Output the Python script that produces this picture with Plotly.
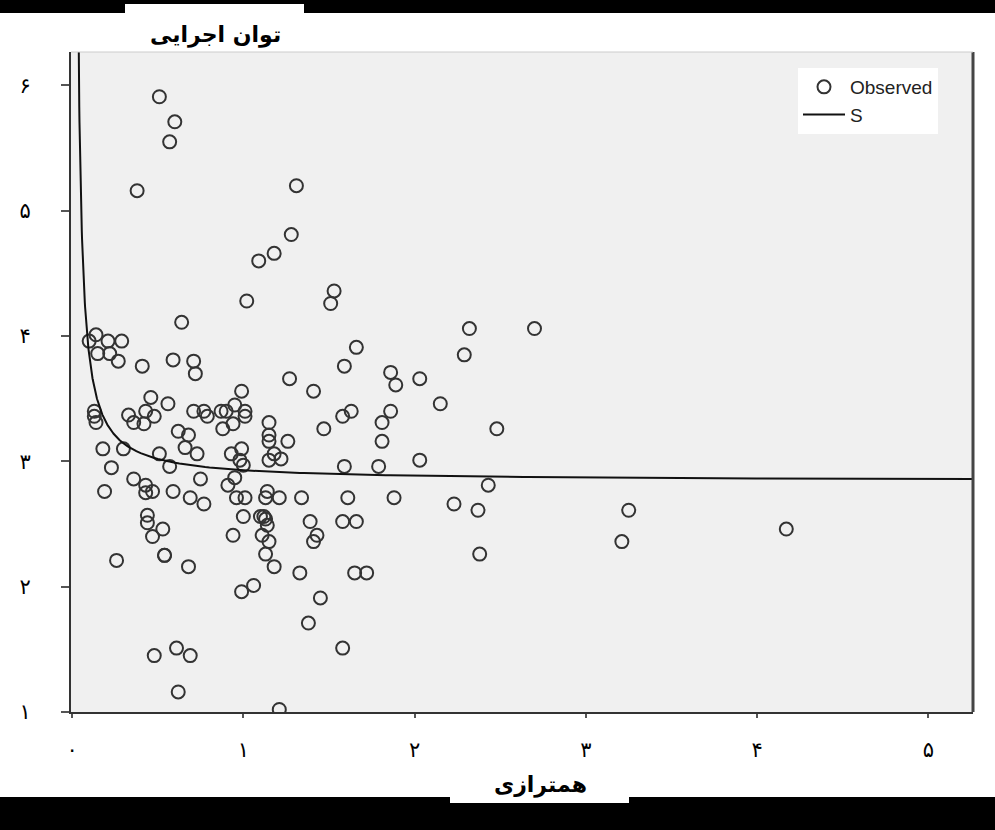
import numpy as np
import plotly.graph_objects as go

# ---- data ----
alignment = [0.51, 0.60, 0.57, 0.38, 1.31, 1.28, 1.18, 1.09, 1.02, 1.53, 1.51, 0.64,
             0.14, 0.10, 0.21, 0.29, 0.15, 0.22, 0.27, 0.41, 0.59, 0.71, 0.72, 0.99,
             0.46, 0.56, 0.13, 0.13, 0.14, 0.33, 0.36, 0.43, 0.48, 0.42, 0.71, 0.77,
             0.79, 0.87, 0.90, 0.95, 1.01, 1.01, 0.94, 0.88, 0.62, 0.68, 0.18, 0.30,
             0.51, 0.66, 0.73, 0.57, 0.23, 0.99, 0.93, 0.98, 1.00, 0.75, 0.95, 0.91,
             0.36, 0.43, 0.43, 0.47, 0.19, 0.59, 0.69, 0.77, 0.96, 1.01, 1.00, 0.44,
             0.44, 0.53, 0.47, 0.94, 0.54, 0.54, 0.26, 0.68, 0.99, 1.06, 0.48, 0.61,
             0.69, 0.62, 1.66, 1.59, 1.27, 1.41, 1.86, 1.89, 2.03, 2.15, 2.29, 1.15,
             1.15, 1.15, 1.26, 1.47, 1.63, 1.58, 1.86, 1.81, 1.81, 2.03, 1.18, 1.15,
             1.22, 1.59, 1.79, 1.14, 1.13, 1.21, 1.34, 1.61, 1.88, 2.23, 1.10, 1.12,
             1.13, 1.39, 1.58, 1.66, 1.14, 1.11, 1.15, 1.13, 1.18, 1.43, 1.41, 1.33,
             1.65, 1.72, 1.45, 1.38, 1.58, 1.21, 2.32, 2.70, 2.48, 2.43, 2.37, 2.38,
             3.21, 3.25, 4.17]
performance = [5.91, 5.71, 5.55, 5.16, 5.20, 4.81, 4.66, 4.60, 4.28, 4.36, 4.26, 4.11,
               4.01, 3.96, 3.96, 3.96, 3.86, 3.86, 3.80, 3.76, 3.81, 3.80, 3.70, 3.56,
               3.51, 3.46, 3.40, 3.36, 3.31, 3.37, 3.31, 3.40, 3.36, 3.30, 3.40, 3.40,
               3.36, 3.40, 3.40, 3.45, 3.40, 3.36, 3.30, 3.26, 3.24, 3.21, 3.10, 3.10,
               3.06, 3.11, 3.06, 2.96, 2.95, 3.10, 3.06, 3.01, 2.97, 2.86, 2.87, 2.81,
               2.86, 2.81, 2.75, 2.76, 2.76, 2.76, 2.71, 2.66, 2.71, 2.71, 2.56, 2.57,
               2.51, 2.46, 2.40, 2.41, 2.25, 2.25, 2.21, 2.16, 1.96, 2.01, 1.45, 1.51,
               1.45, 1.16, 3.91, 3.76, 3.66, 3.56, 3.71, 3.61, 3.66, 3.46, 3.85, 3.31,
               3.21, 3.16, 3.16, 3.26, 3.40, 3.36, 3.40, 3.31, 3.16, 3.01, 3.06, 3.01,
               3.02, 2.96, 2.96, 2.76, 2.71, 2.71, 2.71, 2.71, 2.71, 2.66, 2.56, 2.56,
               2.54, 2.52, 2.52, 2.52, 2.49, 2.41, 2.36, 2.26, 2.16, 2.41, 2.36, 2.11,
               2.11, 2.11, 1.91, 1.71, 1.51, 1.02, 4.06, 4.06, 3.26, 2.81, 2.61, 2.26,
               2.36, 2.61, 2.46]

x_ticks = [0, 1, 2, 3, 4, 5]
x_tick_labels = ["۰", "۱", "۲", "۳", "۴", "۵"]
y_ticks = [1, 2, 3, 4, 5, 6]
y_tick_labels = ["۱", "۲", "۳", "۴", "۵", "۶"]

x_title = "همترازی"
y_title = "توان اجرایی"

# ---- S model fit: ln(y) = b0 + b1 / x ----
xa = np.array(alignment)
ya = np.array(performance)
b1, b0 = np.polyfit(1.0 / xa, np.log(ya), 1)
curve_x = np.concatenate([np.linspace(0.03, 0.3, 200), np.linspace(0.3, 5.3, 200)])
curve_y = np.exp(b0 + b1 / curve_x)

W, H = 995, 830
L, R, T, B = 71, 973, 52, 712
pw, ph = R - L, B - T


def px(xp):
    return (xp - L) / pw


def py(yp):
    return (B - yp) / ph


fig = go.Figure()
fig.add_trace(go.Scatter(
    x=alignment, y=performance, mode="markers", name="Observed",
    marker=dict(symbol="circle-open", size=13, color="#333333",
                line=dict(width=2, color="#333333")),
))
fig.add_trace(go.Scatter(
    x=curve_x, y=curve_y, mode="lines", name="S",
    line=dict(color="#111111", width=2),
))

shapes = [
    # top black band and white title box
    dict(type="rect", xref="paper", yref="paper", x0=px(-5), x1=px(W + 5), y0=py(0 - 5), y1=py(13),
         fillcolor="black", line=dict(width=0), layer="above"),
    dict(type="rect", xref="paper", yref="paper", x0=px(125), x1=px(304), y0=py(4), y1=py(50),
         fillcolor="white", line=dict(width=0), layer="above"),
    # bottom black band and white box
    dict(type="rect", xref="paper", yref="paper", x0=px(-5), x1=px(W + 5), y0=py(797), y1=py(H + 5),
         fillcolor="black", line=dict(width=0), layer="above"),
    dict(type="rect", xref="paper", yref="paper", x0=px(450), x1=px(629), y0=py(796), y1=py(803),
         fillcolor="white", line=dict(width=0), layer="above"),
    # plot frame: right and top
    dict(type="line", xref="paper", yref="paper", x0=1, x1=1, y0=0, y1=1,
         line=dict(color="#444444", width=3), layer="above"),
    dict(type="line", xref="paper", yref="paper", x0=0, x1=1, y0=1, y1=1,
         line=dict(color="#cccccc", width=1), layer="above"),
]

annotations = [
    dict(text="<b>" + y_title + "</b>", xref="paper", yref="paper", x=px(215), y=py(35),
         xanchor="center", yanchor="middle", showarrow=False,
         font=dict(family="DejaVu Sans", size=22, color="black")),
    dict(text="<b>" + x_title + "</b>", xref="paper", yref="paper", x=px(540), y=py(785),
         xanchor="center", yanchor="middle", showarrow=False,
         font=dict(family="DejaVu Sans", size=22, color="black")),
]

fig.update_layout(
    width=W, height=H,
    margin=dict(l=L, r=W - R, t=T, b=H - B, pad=0),
    paper_bgcolor="white", plot_bgcolor="#f0f0f0",
    showlegend=True,
    legend=dict(x=px(798), y=py(68), xanchor="left", yanchor="top",
                bgcolor="white", borderwidth=0, tracegroupgap=0,
                font=dict(family="Liberation Sans", size=19, color="#222222"),
                itemwidth=42),
    shapes=shapes, annotations=annotations,
    xaxis=dict(range=[-0.006, 5.26], tickvals=x_ticks, ticktext=x_tick_labels,
               showgrid=False, zeroline=False, showline=True, linecolor="#333333", linewidth=2,
               ticks="outside", ticklen=4, tickwidth=2, tickcolor="#555555",
               ticklabelstandoff=14,
               tickfont=dict(family="DejaVu Sans", size=21, color="black")),
    yaxis=dict(range=[1.0, 6.267], tickvals=y_ticks, ticktext=y_tick_labels,
               showgrid=False, zeroline=False, showline=True, linecolor="#333333", linewidth=2,
               ticks="outside", ticklen=8, tickwidth=2, tickcolor="#555555",
               ticklabelstandoff=26,
               tickfont=dict(family="DejaVu Sans", size=21, color="black")),
)

fig.write_html("out.html", config={"displayModeBar": False},
               post_script="document.body.style.margin='0';document.body.style.overflow='hidden';")
